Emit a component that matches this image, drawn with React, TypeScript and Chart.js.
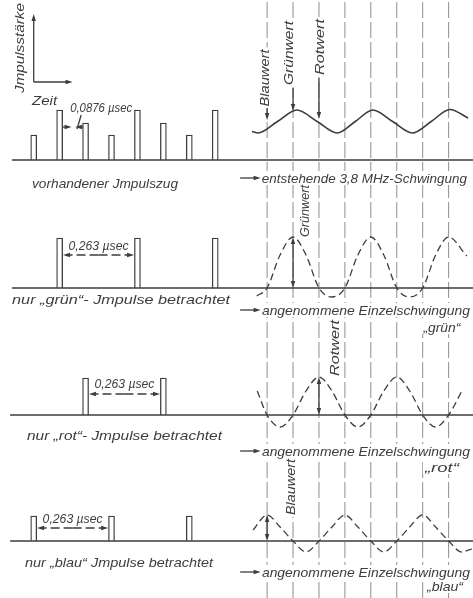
import React, { useEffect, useRef } from 'react';
import { Chart, registerables } from 'chart.js';

Chart.register(...registerables);

// ---------- scale ranges (time in units of one pulse step, 0.0876 µs) ----------
const T_MIN = -1.3;
const T_MAX = 16.94;
const Y_MIN = 0;
const Y_MAX = 598;

// ---------- panels: zero level of each row ----------
const PANEL_BASE = [438, 310, 183, 57];
const PANEL_LINE_START = [-0.84, -0.84, -0.91, -0.91];

// ---------- pulse train ----------
const PULSE_TIMES = [0, 1, 2, 3, 4, 5, 6, 7];
const PULSE_KIND = ['blau', 'grün', 'rot', 'blau', 'grün', 'rot', 'blau', 'grün'];
const PULSE_HEIGHT: Record<string, number> = { blau: 25, 'grün': 50, rot: 37 };
const PANEL_KINDS = [['blau', 'grün', 'rot'], ['grün'], ['rot'], ['blau']];

// ---------- reference lines (right half) ----------
const GRID_TIMES = [9, 10, 11, 12, 13, 14, 15, 16];

// ---------- resulting 3.8 MHz oscillation (top row) ----------
const SUM_T = [8.42, 8.65, 9.4, 10.15, 10.93, 11.7, 12.4, 13.08, 13.84, 14.6, 15.33, 16.05, 16.75];
const SUM_H = [28.5, 27, 38.5, 50, 38.5, 27, 38.5, 50, 38.5, 27, 38.5, 50.5, 42];

// ---------- assumed single oscillations ----------
const GRUEN_T = [8.6, 9, 9.5, 10, 10.5, 11, 11.5, 12, 12.5, 13, 13.5, 14, 14.5, 15, 15.5, 16, 16.7];
const GRUEN_H = [-8, 0, 33, 51, 33, 0, -9, 0, 33, 51, 33, 0, -9, 0, 33, 51, 32];
const ROT_T = [8.62, 9, 9.5, 10, 10.5, 11, 11.5, 12, 12.5, 13, 13.5, 14, 14.5, 15, 15.5, 16, 16.55];
const ROT_H = [24, 0, -12, 0, 24, 38, 24, 0, -12, 0, 24, 38, 24, 0, -12, 0, 26];
const BLAU_T = [8.46, 9, 9.5, 10, 10.5, 11, 11.5, 12, 12.5, 13, 13.5, 14, 14.5, 15, 15.5, 16, 16.5, 16.9];
const BLAU_H = [11, 26, 14, 0, -11, 0, 14, 26, 14, 0, -11, 0, 14, 26, 14, 0, -11, -8];

// value markers
const MARK_NAMES = ['Blauwert', 'Grünwert', 'Rotwert'];
const MARK_TIMES = [9, 10, 11];
const TOP_MARK_TIP = [40, 49, 41];

const INK = '#3d3d3d';
const GRID = '#8e8e8e';
const FONT = 'italic 13px "Liberation Sans", "DejaVu Sans", Arial, sans-serif';

type Label = { text: string; t: number; y: number; w: number; rot?: boolean; bg?: boolean };

const LABELS: Label[] = [
  { text: 'Jmpulsstärke', t: -0.57, y: 550, w: 90, rot: true },
  { text: 'Zeit', t: 0.42, y: 498, w: 25 },
  { text: '0,0876 µsec', t: 2.6, y: 491, w: 62 },
  { text: 'vorhandener Jmpulszug', t: 2.75, y: 415, w: 146 },
  { text: 'entstehende 3,8 MHz-Schwingung', t: 12.75, y: 420, w: 205, bg: true },
  { text: MARK_NAMES[0], t: 8.88, y: 520, w: 57, rot: true, bg: true },
  { text: MARK_NAMES[1], t: 9.84, y: 545, w: 64, rot: true, bg: true },
  { text: MARK_NAMES[2], t: 11.0, y: 551, w: 56, rot: true, bg: true },
  { text: 'nur „grün“- Jmpulse betrachtet', t: 3.37, y: 299, w: 218 },
  { text: 'angenommene Einzelschwingung', t: 12.81, y: 288, w: 208, bg: true },
  { text: '„grün“', t: 15.74, y: 271, w: 37, bg: true },
  { text: MARK_NAMES[1], t: 10.45, y: 387, w: 52, rot: true, bg: true },
  { text: 'nur „rot“- Jmpulse betrachtet', t: 3.5, y: 163, w: 195 },
  { text: 'angenommene Einzelschwingung', t: 12.81, y: 147, w: 208, bg: true },
  { text: '„rot“', t: 15.74, y: 131, w: 34, bg: true },
  { text: MARK_NAMES[2], t: 11.58, y: 250, w: 56, rot: true, bg: true },
  { text: 'nur „blau“ Jmpulse betrachtet', t: 3.29, y: 36, w: 188 },
  { text: 'angenommene Einzelschwingung', t: 12.81, y: 26, w: 208, bg: true },
  { text: '„blau“', t: 15.86, y: 12, w: 36, bg: true },
  { text: MARK_NAMES[0], t: 9.88, y: 111, w: 56, rot: true, bg: true },
];

// dimension arrows "0,263 µsec": panel, from pulse, to pulse, height of arrow, height of text
const DIM_PANEL = [1, 2, 3];
const DIM_FROM = [1, 2, 0];
const DIM_TO = [4, 5, 3];
const DIM_H = [33, 21, 13];
const DIM_TEXT_H = [43, 32, 23];

function arrowHead(ctx: CanvasRenderingContext2D, x1: number, y1: number, x2: number, y2: number, len = 7, hw = 2.2) {
  const a = Math.atan2(y2 - y1, x2 - x1);
  const c = Math.cos(a), s = Math.sin(a);
  ctx.beginPath();
  ctx.moveTo(x2, y2);
  ctx.lineTo(x2 - c * len + s * hw, y2 - s * len - c * hw);
  ctx.lineTo(x2 - c * len - s * hw, y2 - s * len + c * hw);
  ctx.closePath();
  ctx.fill();
}

function arrow(ctx: CanvasRenderingContext2D, x1: number, y1: number, x2: number, y2: number, dash: number[] = []) {
  const a = Math.atan2(y2 - y1, x2 - x1);
  ctx.save();
  ctx.setLineDash(dash);
  ctx.beginPath();
  ctx.moveTo(x1, y1);
  ctx.lineTo(x2 - Math.cos(a) * 5, y2 - Math.sin(a) * 5);
  ctx.stroke();
  ctx.restore();
  arrowHead(ctx, x1, y1, x2, y2);
}

function labelBg(ctx: CanvasRenderingContext2D, l: Label, x: number, y: number) {
  if (!l.bg) return;
  ctx.save();
  ctx.translate(x, y);
  if (l.rot) ctx.rotate(-Math.PI / 2);
  ctx.fillStyle = '#ffffff';
  ctx.fillRect(-l.w / 2 - 2, -7, l.w + 4, 14);
  ctx.restore();
}

function drawLabel(ctx: CanvasRenderingContext2D, l: Label, x: number, y: number) {
  ctx.save();
  ctx.translate(x, y);
  if (l.rot) ctx.rotate(-Math.PI / 2);
  ctx.font = FONT;
  const m = ctx.measureText(l.text).width;
  ctx.scale(l.w / m, 1);
  ctx.fillStyle = INK;
  ctx.textAlign = 'center';
  ctx.textBaseline = 'middle';
  ctx.fillText(l.text, 0, 1);
  ctx.restore();
}

const annotationPlugin = {
  id: 'annotations',
  afterDatasetsDraw(chart: any) {
    const ctx: CanvasRenderingContext2D = chart.ctx;
    const X = (t: number) => chart.scales.x.getPixelForValue(t);
    const Y = (v: number) => chart.scales.y.getPixelForValue(v);
    ctx.save();
    ctx.strokeStyle = INK;
    ctx.fillStyle = INK;
    ctx.lineWidth = 1.3;

    LABELS.forEach((l) => labelBg(ctx, l, X(l.t), Y(l.y)));
    LABELS.forEach((l) => drawLabel(ctx, l, X(l.t), Y(l.y)));
    ctx.fillStyle = INK;

    const b0 = PANEL_BASE[0];
    // axis icon
    arrow(ctx, X(0), Y(b0 + 78), X(0), Y(b0 + 146));
    arrow(ctx, X(0), Y(b0 + 78), X(1.5), Y(b0 + 78));

    // 0,0876 µsec spacing arrows
    arrow(ctx, X(1.12), Y(b0 + 33), X(1.46), Y(b0 + 33));
    arrow(ctx, X(1.9), Y(b0 + 33), X(1.6), Y(b0 + 33));
    ctx.beginPath();
    ctx.moveTo(X(1.67), Y(b0 + 31));
    ctx.lineTo(X(1.83), Y(b0 + 45));
    ctx.stroke();

    // arrows before the right-hand captions
    [420, 288, 147, 26].forEach((y) => arrow(ctx, X(7.96), Y(y), X(8.75), Y(y)));

    // top value markers (pointing down onto the resulting oscillation)
    const topStart = [490, 510, 520];
    MARK_TIMES.forEach((t, i) => arrow(ctx, X(t), Y(topStart[i]), X(t), Y(b0 + TOP_MARK_TIP[i])));

    // value arrows in single oscillation rows
    const waveH = [GRUEN_H, ROT_H, BLAU_H];
    const waveT = [GRUEN_T, ROT_T, BLAU_T];
    const markIdx = [1, 2, 0];
    for (let p = 1; p <= 3; p++) {
      const base = PANEL_BASE[p];
      const t = MARK_TIMES[markIdx[p - 1]];
      const peak = waveH[p - 1][waveT[p - 1].indexOf(t)];
      const xm = X(t);
      const mid = Y(base + peak / 2);
      arrow(ctx, xm, mid, xm, Y(base + peak));
      arrow(ctx, xm, mid, xm, Y(base));
    }

    // dimension arrows 0,263 µsec
    DIM_PANEL.forEach((p, i) => {
      const base = PANEL_BASE[p];
      const tm = (DIM_FROM[i] + DIM_TO[i]) / 2;
      const yy = Y(base + DIM_H[i]);
      arrow(ctx, X(tm), yy, X(DIM_FROM[i] + 0.13), yy, [9, 4]);
      arrow(ctx, X(tm), yy, X(DIM_TO[i] - 0.13), yy, [9, 4]);
      drawLabel(ctx, { text: '0,263 µsec', t: tm, y: base + DIM_TEXT_H[i], w: 60 }, X(tm), Y(base + DIM_TEXT_H[i]));
    });
    ctx.restore();
  },
};

function lineDS(points: { x: number; y: number }[], extra: any = {}) {
  return {
    type: 'line',
    data: points,
    borderColor: INK,
    borderWidth: 1.4,
    pointRadius: 0,
    fill: false,
    tension: 0,
    ...extra,
  };
}

function buildDatasets() {
  const ds: any[] = [];
  GRID_TIMES.forEach((t) =>
    ds.push(lineDS([{ x: t, y: Y_MIN }, { x: t, y: Y_MAX }], { borderColor: GRID, borderWidth: 1, borderDash: [16, 4], order: 10 }))
  );
  PANEL_BASE.forEach((base, i) => {
    ds.push(lineDS([{ x: PANEL_LINE_START[i], y: base }, { x: T_MAX, y: base }], { borderWidth: 1.5, order: 0 }));
    const pts = PULSE_TIMES.filter((_, k) => PANEL_KINDS[i].includes(PULSE_KIND[k])).map((t) => {
      const kind = PULSE_KIND[PULSE_TIMES.indexOf(t)];
      return { x: t, y: [base, base + PULSE_HEIGHT[kind]] };
    });
    ds.push({
      type: 'bar',
      data: pts,
      barThickness: 6,
      grouped: false,
      borderWidth: 1.3,
      borderColor: INK,
      backgroundColor: '#ffffff',
      order: 2,
    });
  });
  ds.push(lineDS(SUM_T.map((t, k) => ({ x: t, y: PANEL_BASE[0] + SUM_H[k] })), { cubicInterpolationMode: 'monotone', borderWidth: 1.6, order: 3 }));
  const dashed = { cubicInterpolationMode: 'monotone', borderDash: [7, 4], borderWidth: 1.3, order: 3 };
  ds.push(lineDS(GRUEN_T.map((t, k) => ({ x: t, y: PANEL_BASE[1] + GRUEN_H[k] })), dashed));
  ds.push(lineDS(ROT_T.map((t, k) => ({ x: t, y: PANEL_BASE[2] + ROT_H[k] })), dashed));
  ds.push(lineDS(BLAU_T.map((t, k) => ({ x: t, y: PANEL_BASE[3] + BLAU_H[k] })), dashed));
  return ds;
}

export default function App() {
  const ref = useRef<HTMLCanvasElement | null>(null);
  useEffect(() => {
    document.body.style.margin = '0';
    document.body.style.background = '#ffffff';
    if (!ref.current) return;
    const chart = new Chart(ref.current, {
      type: 'line',
      data: { datasets: buildDatasets() },
      options: {
        animation: false,
        responsive: false,
        maintainAspectRatio: false,
        events: [],
        layout: { padding: 0 },
        plugins: { legend: { display: false }, tooltip: { enabled: false } },
        scales: {
          x: { type: 'linear', min: T_MIN, max: T_MAX, display: false, offset: false },
          y: { type: 'linear', min: Y_MIN, max: Y_MAX, display: false },
        },
      },
      plugins: [annotationPlugin],
    } as any);
    return () => chart.destroy();
  }, []);
  return (
    <div style={{ width: 473, height: 598, background: '#fff' }}>
      <canvas ref={ref} width={473} height={598} style={{ display: 'block' }} />
    </div>
  );
}
